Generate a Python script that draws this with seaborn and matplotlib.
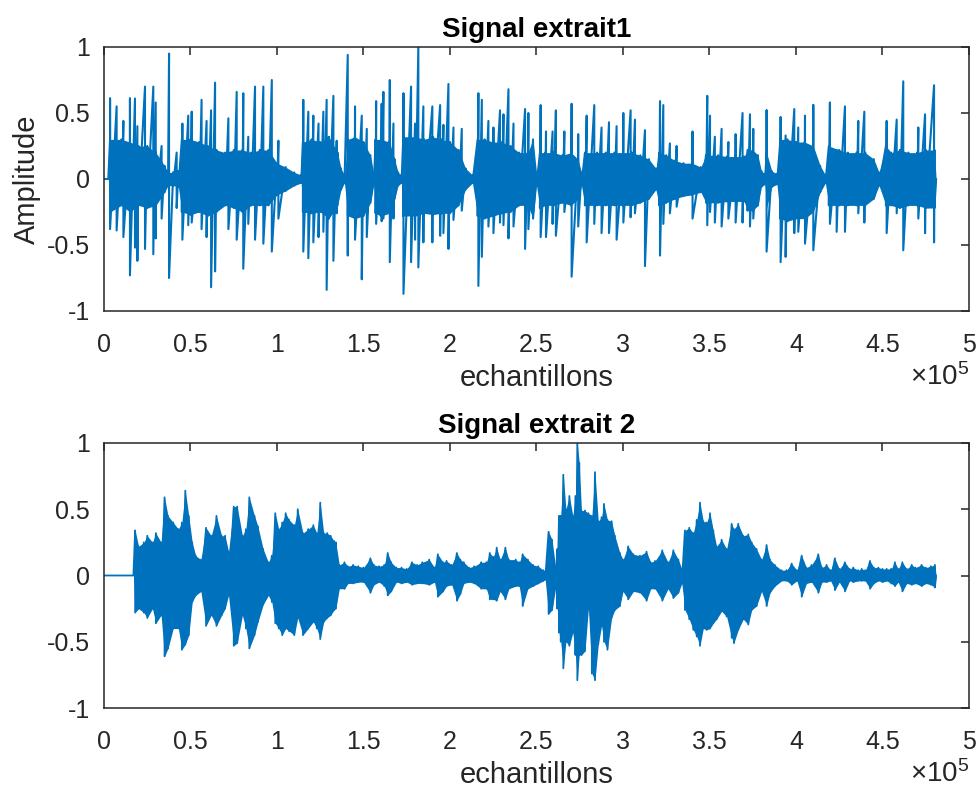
import numpy as np
import pandas as pd
import matplotlib
matplotlib.use("Agg")
import matplotlib.pyplot as plt
import seaborn as sns

# ---------------- data (x in thousands of samples) ----------------
# Signal 1 : body envelope
top_x = [0, 2.5, 3.5, 10, 15, 20, 25, 30, 35, 37, 40, 43, 45, 50, 55, 60, 65, 70, 75, 80, 85, 90, 95, 100,
         105, 110, 114, 115, 120, 125, 130, 135, 137, 139, 141, 145, 150, 154, 156, 157, 160, 165, 168, 170,
         172, 173, 180, 185, 190, 195, 200, 205, 209, 213, 216, 220, 225, 230, 235, 240, 245, 248, 250, 252,
         255, 260, 265, 270, 274, 276, 278, 285, 290, 295, 300, 305, 310, 315, 319, 321, 325, 330, 335, 340,
         345, 348, 355, 360, 365, 370, 372, 375, 378, 380, 382, 383, 386, 389, 391, 395, 400, 405, 410, 414,
         417, 419, 425, 430, 435, 440, 445, 448, 452, 455, 460, 465, 470, 475, 480, 481]
top_hi = [0, 0, .30, .30, .28, .25, .25, .20, .10, .05, .05, .06, .30, .30, .28, .25, .22, .20, .22, .22, .20, .22, .22, .12,
          .09, .05, .03, .28, .30, .28, .32, .20, .08, .03, .30, .32, .28, .18, .04, .30, .30, .28, .15, .05,
          .03, .32, .32, .30, .32, .30, .28, .22, .08, .03, .30, .30, .28, .28, .25, .20, .20, .30, .05, .20,
          .20, .20, .18, .20, .15, .05, .20, .20, .20, .20, .20, .20, .18, .15, .08, .20, .18, .14, .12, .12,
          .09, .18, .18, .17, .17, .17, .22, .22, .18, .06, .04, .20, .06, .04, .30, .30, .28, .28, .25, .10,
          .03, .25, .22, .20, .20, .20, .15, .05, .25, .20, .22, .20, .20, .22, .22, 0]
top_lo = [0, 0, -.25, -.20, -.25, -.20, -.22, -.20, -.10, -.05, -.05, -.06, -.25, -.27, -.25, -.28, -.25, -.20, -.22, -.25, -.20, -.20, -.20, -.12,
          -.09, -.05, -.03, -.25, -.26, -.25, -.30, -.20, -.08, -.03, -.28, -.30, -.28, -.18, -.04, -.26, -.28, -.26, -.15, -.05,
          -.03, -.28, -.28, -.26, -.27, -.26, -.26, -.20, -.08, -.03, -.28, -.30, -.28, -.26, -.25, -.20, -.20, -.30, -.05, -.22,
          -.20, -.20, -.18, -.20, -.15, -.05, -.20, -.20, -.20, -.20, -.20, -.20, -.18, -.15, -.08, -.20, -.18, -.15, -.13, -.12,
          -.10, -.18, -.18, -.17, -.17, -.17, -.24, -.24, -.20, -.06, -.04, -.22, -.06, -.04, -.30, -.32, -.30, -.30, -.25, -.10,
          -.03, -.20, -.20, -.20, -.20, -.20, -.15, -.05, -.20, -.20, -.22, -.20, -.20, -.22, -.22, 0]

# Signal 1 : isolated peaks
spk_x = [3.5, 7.3, 11.2, 15.0, 17.9, 19.3, 23.7, 28.5, 29.9, 33.3, 37.6, 42, 45.3, 48.7, 50.7, 56.4, 59.3, 61.9,
         64.2, 71.9, 76.7, 80.5, 83.4, 87.3, 92.1, 97, 100.8, 115.2, 118.1, 121, 124, 126.8, 128.7, 132.6,
         134.5, 140.9, 145.1, 149, 151.9, 157.3, 160.5, 161.5, 165.2, 167.3, 173.1, 177.5, 179.8, 181.7,
         184.6, 189.8, 194.3, 196.2, 199.1, 202, 206.8, 216.4, 218.4, 222.2, 225.1, 228.9, 230.9, 233.8,
         236.7, 243.4, 245.3, 252.4, 255.5, 259.3, 261.2, 266.1, 270.3, 274.1, 279, 283.4, 287.6, 291.9,
         296.3, 300.2, 304.4, 306.9, 312.7, 321.4, 323.3, 327.1, 331, 340.2, 348.7, 350.3, 353.1, 357,
         360.9, 365.1, 369.1, 373.4, 375.3, 383, 391.1, 394, 399, 401.3, 405.2, 410, 419.6, 423.5, 428.3,
         436, 439.5, 452.4, 458.2, 462, 470.7, 474.6, 479.8]
spk_hi = [.61, .55, .44, .61, .61, .40, .70, .70, .58, .25, .95, .20, .42, .48, .51, .60, .44, .52,
          .73, .46, .66, .65, .32, .70, .70, .75, .29, .60, .51, .48, .42, .51, .60, .63,
          .29, .94, .55, .48, .38, .59, .57, .66, .75, .42, .65, .70, .42, 1.0,
          .55, .55, .56, .41, .72, .39, .38, .65, .60, .44, .39, .52, .49, .68,
          .42, .53, .50, .56, .36, .36, .52, .36, .57, .34, .48, .56, .39, .43,
          .40, .50, .52, .45, .37, .59, .56, .27, .25, .36, .63, .48, .32, .38,
          .28, .34, .50, .49, .38, .52, .47, .33, .53, .39, .48, .56, .58, .22, .55,
          .44, .51, .44, .45, .74, .39, .49, .71]
spk_lo = [-.38, -.39, -.44, -.73, -.52, -.62, -.53, -.57, -.45, -.30, -.75, -.22, -.46, -.35, -.33, -.38, -.44, -.82,
          -.70, -.38, -.46, -.68, -.34, -.46, -.49, -.55, -.30, -.55, -.60, -.48, -.44, -.40, -.84, -.62,
          -.26, -.58, -.46, -.76, -.44, -.34, -.32, -.30, -.63, -.30, -.87, -.63, -.46, -.67,
          -.48, -.48, -.43, -.41, -.53, -.31, -.24, -.81, -.59, -.36, -.41, -.33, -.35, -.45,
          -.36, -.53, -.38, -.44, -.44, -.34, -.43, -.25, -.74, -.36, -.48, -.34, -.41, -.41,
          -.46, -.33, -.29, -.26, -.66, -.58, -.34, -.26, -.21, -.30, -.35, -.25, -.33, -.36,
          -.30, -.33, -.33, -.36, -.30, -.55, -.63, -.59, -.41, -.40, -.49, -.54, -.34, -.40, -.40,
          -.26, -.33, -.41, -.26, -.54, -.30, -.41, -.48]

# Signal 2 : envelope
bot_x = [0, 17, 18, 20, 23, 25, 28, 30, 33, 35, 37, 40, 43, 45, 47, 49, 51, 53, 56, 59, 62, 65, 68, 70, 72, 75, 77,
         80, 82, 84, 87, 89, 92, 95, 97, 99, 101, 103, 105, 107, 110, 112, 115, 118, 121, 123, 125, 127, 129, 131,
         133, 134, 136, 139, 141, 144, 147, 150, 154, 156, 159, 162, 164, 166, 169, 172, 175, 178, 181, 184, 188,
         191, 193, 196, 198, 201, 204, 206, 208, 211, 214, 218, 221, 223, 225, 227, 229, 232, 234, 238, 240, 242,
         245, 248, 251, 254, 255, 257, 259, 261, 262, 263, 264, 265.5, 267, 269, 271, 272.5, 273.6, 274.7, 276,
         278, 280, 282, 283.8, 285.7, 287.6, 289, 291, 293.4, 295.3, 298.2, 300, 303, 306, 309.8, 313.6, 316,
         318.5, 322.7, 326, 329.1, 332, 334, 335.8, 338.3, 340.6, 342.6, 344.5, 346.4, 348.3, 350.3, 352.2,
         354.1, 357, 359.9, 362.8, 364.1, 366.6, 369.5, 372.4, 374.4, 377.2, 380.1, 383, 385, 387.8, 391.7,
         394.5, 397.5, 400.5, 403.3, 406, 409, 412.9, 415, 417.7, 420, 422.5, 425, 428.3, 431, 433.1, 436, 438,
         440, 442.8, 445, 447.6, 450, 452.4, 455, 457.2, 459, 461.5, 464, 466.9, 469, 472.6, 475, 478, 480.3, 481]
bot_hi = [0, 0, .34, .22, .25, .30, .25, .32, .25, .59, .45, .40, .35, .40, .64, .45, .25, .15, .12, .36, .30, .45, .30, .30, .18, .52, .52,
          .30, .35, .59, .45, .37, .20, .10, .15, .47, .35, .40, .47, .42, .38, .50, .32, .35, .38, .32, .55, .32, .32, .30,
          .26, .25, .08, .10, .07, .08, .07, .06, .13, .08, .07, .08, .17, .10, .06, .06, .05, .10, .08, .10, .12,
          .06, .16, .10, .11, .08, .17, .12, .10, .06, .07, .10, .10, .17, .14, .21, .12, .21, .12, .12, .10, .16,
          .12, .08, .07, .04, .03, .33, .27, .07, .20, .45, .45, .76, .50, .60, .45, .60, 1.0, .85, .49,
          .49, .47, .45, .78, .41, .44, .54, .42, .41, .30, .17, .12, .22, .16, .15, .18, .10,
          .11, .19, .10, .19, .12, .05, .34, .36, .32, .42, .55, .41, .40, .47, .34,
          .22, .27, .20, .39, .35, .39, .30, .31, .25, .20, .12, .23, .12, .08, .04,
          .04, .09, .04, .15, .06, .08, .16, .06, .08, .04, .13, .05, .10, .05, .06, .04, .05,
          .04, .11, .06, .06, .05, .05, .05, .10, .05, .10, .05, .08, .06, .08, .06, .07, .08, 0]
bot_lo = [0, 0, -.28, -.25, -.28, -.32, -.25, -.36, -.30, -.61, -.55, -.40, -.40, -.56, -.52, -.45, -.20, -.15, -.12, -.38, -.30, -.38, -.30, -.25, -.15, -.53, -.51,
          -.30, -.40, -.55, -.45, -.35, -.22, -.15, -.20, -.36, -.40, -.45, -.40, -.42, -.45, -.32, -.45, -.40, -.35, -.40, -.48, -.35, -.32, -.30,
          -.26, -.25, -.10, -.10, -.06, -.06, -.05, -.05, -.13, -.07, -.05, -.08, -.15, -.12, -.05, -.06, -.05, -.07, -.06, -.06, -.07,
          -.05, -.16, -.12, -.08, -.07, -.19, -.14, -.06, -.05, -.06, -.10, -.10, -.18, -.18, -.19, -.12, -.18, -.10, -.08, -.08, -.23,
          -.10, -.08, -.06, -.04, -.03, -.29, -.26, -.10, -.25, -.43, -.50, -.70, -.50, -.53, -.43, -.60, -.79, -.60, -.60,
          -.57, -.25, -.74, -.79, -.52, -.38, -.50, -.56, -.32, -.26, -.23, -.12, -.18, -.12, -.13, -.19, -.10,
          -.10, -.19, -.10, -.17, -.13, -.06, -.26, -.33, -.41, -.46, -.53, -.40, -.41, -.40, -.36,
          -.33, -.27, -.31, -.47, -.51, -.41, -.33, -.37, -.26, -.23, -.12, -.23, -.13, -.08, -.04,
          -.04, -.07, -.04, -.16, -.06, -.05, -.13, -.05, -.05, -.04, -.11, -.05, -.12, -.04, -.05, -.04, -.04,
          -.04, -.10, -.06, -.04, -.05, -.04, -.06, -.08, -.05, -.12, -.06, -.07, -.06, -.08, -.06, -.07, -.09, 0]

x_ticks = [0, 50, 100, 150, 200, 250, 300, 350, 400, 450, 500]
x_tick_labels = ["0", "0.5", "1", "1.5", "2", "2.5", "3", "3.5", "4", "4.5", "5"]
y_ticks = [-1, -0.5, 0, 0.5, 1]
y_tick_labels = ["-1", "-0.5", "0", "0.5", "1"]

# ---------------- style ----------------
sns.set_theme(style="white")
plt.rcParams["font.family"] = ["Liberation Sans", "DejaVu Sans"]
plt.rcParams["mathtext.fontset"] = "custom"
plt.rcParams["mathtext.rm"] = "Liberation Sans"
plt.rcParams["mathtext.it"] = "Liberation Sans"
C = "#0072BD"
K = "#262626"


def zigzag(xs, his, los):
    pts = sorted(zip(xs, his, los), key=lambda t: t[0])
    px, py = [], []
    for x, h, l in pts:
        if h == l:
            px.append(x * 1000); py.append(h)
        else:
            px += [x * 1000, x * 1000]; py += [h, l]
    return pd.DataFrame({"x": px, "y": py})


fig = plt.figure(figsize=(9.79, 7.93), dpi=100)
ax1 = fig.add_axes([104 / 979, 1 - 311 / 793, 865 / 979, 264 / 793])
ax2 = fig.add_axes([104 / 979, 1 - 708 / 793, 865 / 979, 265 / 793])

# top
ax1.fill_between(np.array(top_x) * 1000, top_lo, top_hi, color=C, lw=0)
df1 = zigzag(top_x + spk_x, top_hi + spk_hi, top_lo + spk_lo)
sns.lineplot(data=df1, x="x", y="y", sort=False, estimator=None, ax=ax1, color=C, linewidth=1.5)

# bottom
ax2.fill_between(np.array(bot_x) * 1000, bot_lo, bot_hi, color=C, lw=0)
df2 = zigzag(bot_x, bot_hi, bot_lo)
sns.lineplot(data=df2, x="x", y="y", sort=False, estimator=None, ax=ax2, color=C, linewidth=1.3)

for ax, title in [(ax1, "Signal extrait1"), (ax2, "Signal extrait 2")]:
    ax.set_xlim(0, 500000)
    ax.set_ylim(-1, 1)
    ax.set_xticks([t * 1000 for t in x_ticks])
    ax.set_xticklabels(x_tick_labels)
    ax.set_yticks(y_ticks)
    ax.set_yticklabels(y_tick_labels)
    ax.tick_params(axis="both", direction="in", top=True, right=True, length=6, width=1.1,
                   color=K, labelcolor=K, labelsize=18)
    ax.tick_params(axis="x", pad=16)
    ax.tick_params(axis="y", pad=10)
    for s in ax.spines.values():
        s.set_visible(True)
        s.set_color(K)
        s.set_linewidth(1.1)
    ax.set_title(title, fontsize=20, fontweight="bold", color="black", pad=7)
    ax.set_xlabel("echantillons", fontsize=21, color=K, labelpad=5)
    ax.set_ylabel("")
    ax.text(1.0, -0.25, r"$\times10^{5}$", transform=ax.transAxes, ha="right", va="center",
            fontsize=20, color=K)

ax1.set_ylabel("Amplitude", fontsize=21, color=K, labelpad=4)

fig.savefig("out.png", dpi=100)
